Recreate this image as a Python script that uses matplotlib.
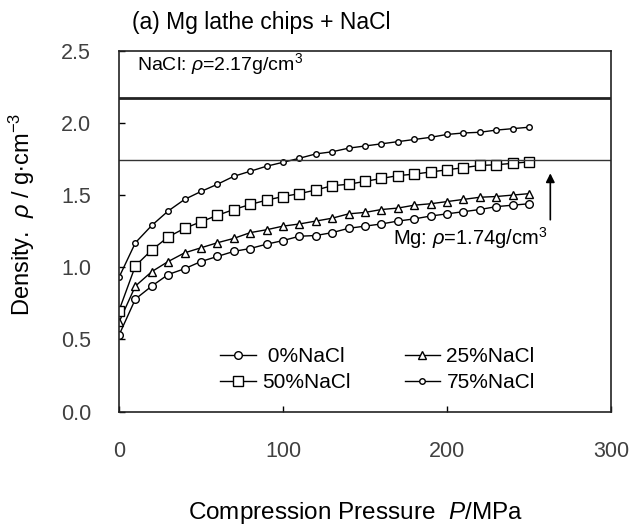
import matplotlib
matplotlib.use("Agg")
import matplotlib.pyplot as plt

# compression pressure (MPa) and density (g/cm3)
pressure = [0, 10, 20, 30, 40, 50, 60, 70, 80, 90, 100, 110, 120, 130,
            140, 150, 160, 170, 180, 190, 200, 210, 220, 230, 240, 250]

nacl_0 = [0.53, 0.78, 0.87, 0.95, 0.99, 1.04, 1.075, 1.11, 1.13, 1.16, 1.185, 1.215, 1.22,
          1.24, 1.27, 1.285, 1.30, 1.32, 1.335, 1.355, 1.37, 1.385, 1.40, 1.42, 1.43, 1.44]
nacl_25 = [0.62, 0.87, 0.97, 1.04, 1.10, 1.135, 1.17, 1.20, 1.24, 1.26, 1.285, 1.30, 1.32,
           1.34, 1.37, 1.38, 1.40, 1.41, 1.43, 1.44, 1.455, 1.47, 1.485, 1.49, 1.50, 1.51]
nacl_50 = [0.70, 1.01, 1.12, 1.21, 1.27, 1.315, 1.36, 1.40, 1.435, 1.465, 1.49, 1.51, 1.535,
           1.565, 1.575, 1.595, 1.615, 1.635, 1.645, 1.66, 1.675, 1.69, 1.705, 1.71, 1.72, 1.73]
nacl_75 = [0.93, 1.17, 1.29, 1.39, 1.47, 1.525, 1.575, 1.63, 1.665, 1.70, 1.727, 1.755, 1.785,
           1.80, 1.825, 1.84, 1.855, 1.87, 1.885, 1.90, 1.92, 1.93, 1.935, 1.95, 1.96, 1.97]

rho_nacl = 2.17
rho_mg = 1.74

plt.rcParams["font.family"] = ["Liberation Sans", "DejaVu Sans"]
plt.rcParams["mathtext.fontset"] = "custom"
plt.rcParams["mathtext.rm"] = "Liberation Sans"
plt.rcParams["mathtext.it"] = "Liberation Sans:italic"

fig = plt.figure(figsize=(6.35, 5.28), dpi=100)
ax = fig.add_axes([0.1874, 0.2203, 0.7748, 0.6837])

mk = dict(color="black", lw=1.0, mfc="white", mec="black", mew=1.0)
l0, = ax.plot(pressure, nacl_0, marker="o", ms=5.5, label=" 0%NaCl", **mk)
l25, = ax.plot(pressure, nacl_25, marker="^", ms=5.5, label="25%NaCl", **mk)
l50, = ax.plot(pressure, nacl_50, marker="s", ms=6.5, label="50%NaCl", **mk)
l75, = ax.plot(pressure, nacl_75, marker="o", ms=4, label="75%NaCl", **mk)

ax.axhline(rho_nacl, color="#222222", lw=2.0)
ax.axhline(rho_mg, color="#333333", lw=1.0)

ax.text(11, 2.408, r"NaCl: $\rho$=2.17g/cm$^3$", fontsize=14, ha="left", va="center")
ax.text(261.5, 1.20, r"Mg: $\rho$=1.74g/cm$^3$", fontsize=14.5, ha="right", va="center")
ax.annotate("", xy=(263, 1.67), xytext=(263, 1.31),
            arrowprops=dict(arrowstyle="-|>", color="black", lw=1.2, mutation_scale=13))

ax.set_xlim(0, 300)
ax.set_ylim(0, 2.5)
ax.set_xticks([0, 100, 200, 300])
ax.set_yticks([0.0, 0.5, 1.0, 1.5, 2.0, 2.5])
ax.set_yticklabels([f"{v:.1f}" for v in [0.0, 0.5, 1.0, 1.5, 2.0, 2.5]])
ax.tick_params(direction="in", length=4, width=1, labelsize=15.5, labelcolor="#404040")
ax.tick_params(axis="y", pad=20)
ax.tick_params(axis="x", pad=21)
for sp in ax.spines.values():
    sp.set_linewidth(1.2)
    sp.set_color("#222222")

ax.legend(handles=[l0, l50, l25, l75], ncol=2, frameon=False, fontsize=15,
          loc="lower left", bbox_to_anchor=(0.185, 0.025), borderpad=0,
          handlelength=1.7, handletextpad=0.3, columnspacing=2.6, labelspacing=0.35)

fig.text(132 / 635, 1 - 22 / 528, "(a) Mg lathe chips + NaCl", fontsize=16.5,
         ha="left", va="center")
fig.text(355 / 635, 1 - 513 / 528, r"Compression Pressure  $P$/MPa", fontsize=17.5,
         ha="center", va="center")
fig.text(22 / 635, 1 - 214 / 528, r"Density.  $\rho$ / g$\bullet$cm$^{-3}$", fontsize=17,
         ha="center", va="center", rotation=90)

fig.savefig("out.png", dpi=100)
